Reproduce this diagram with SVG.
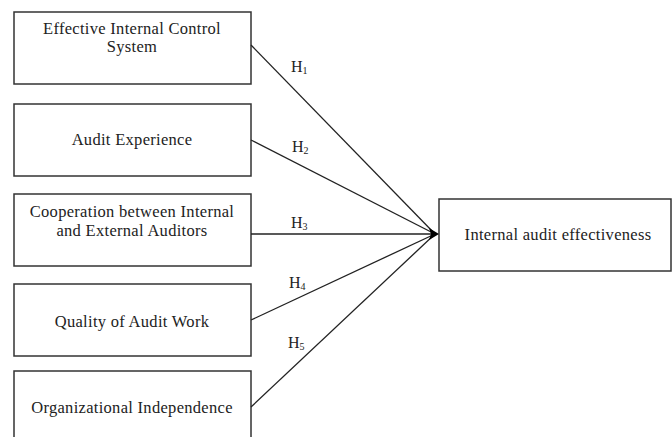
<svg xmlns="http://www.w3.org/2000/svg" width="672" height="437" viewBox="0 0 672 437">
<style>
.box{fill:#fff;stroke:#333;stroke-width:1.5}
.t{font-family:"Liberation Serif","Times New Roman",serif;font-size:16.5px;letter-spacing:0.3px;fill:#222;text-anchor:middle}
.h{font-family:"Liberation Serif","Times New Roman",serif;font-size:16px;fill:#222}
.s{font-size:10px}
.c{stroke:#222;stroke-width:1.3;fill:none}
</style>
<rect width="672" height="437" fill="#fff"/>
<g id="n1"><rect class="box" x="14" y="12" width="237" height="72"/><text class="t" x="132" y="34">Effective Internal Control</text><text class="t" x="132" y="52">System</text></g>
<g id="n2"><rect class="box" x="14" y="104" width="237" height="72"/><text class="t" x="132" y="145">Audit Experience</text></g>
<g id="n3"><rect class="box" x="14" y="194" width="237" height="72"/><text class="t" x="132" y="217">Cooperation between Internal</text><text class="t" x="132" y="236">and External Auditors</text></g>
<g id="n4"><rect class="box" x="14" y="284" width="237" height="72"/><text class="t" x="132" y="327">Quality of Audit Work</text></g>
<g id="n5"><rect class="box" x="14" y="371" width="237" height="72"/><text class="t" x="132" y="413">Organizational Independence</text></g>
<g id="n6"><rect class="box" x="439" y="199" width="232" height="72"/><text class="t" x="558" y="240">Internal audit effectiveness</text></g>
<g id="connectors">
<path class="c" d="M251 45 L435 234"/>
<path class="c" d="M251 140 L435 234"/>
<path class="c" d="M251 234 L435 234"/>
<path class="c" d="M251 320 L435 234"/>
<path class="c" d="M251 407 L435 234"/>
<polygon points="439,234 429,228 431,234 429,240" fill="#000"/>
<text class="h" x="291" y="72">H<tspan class="s" dy="2">1</tspan></text>
<text class="h" x="292" y="152">H<tspan class="s" dy="2">2</tspan></text>
<text class="h" x="291" y="228">H<tspan class="s" dy="2">3</tspan></text>
<text class="h" x="289" y="288">H<tspan class="s" dy="2">4</tspan></text>
<text class="h" x="288" y="348">H<tspan class="s" dy="2">5</tspan></text>
</g>
</svg>
